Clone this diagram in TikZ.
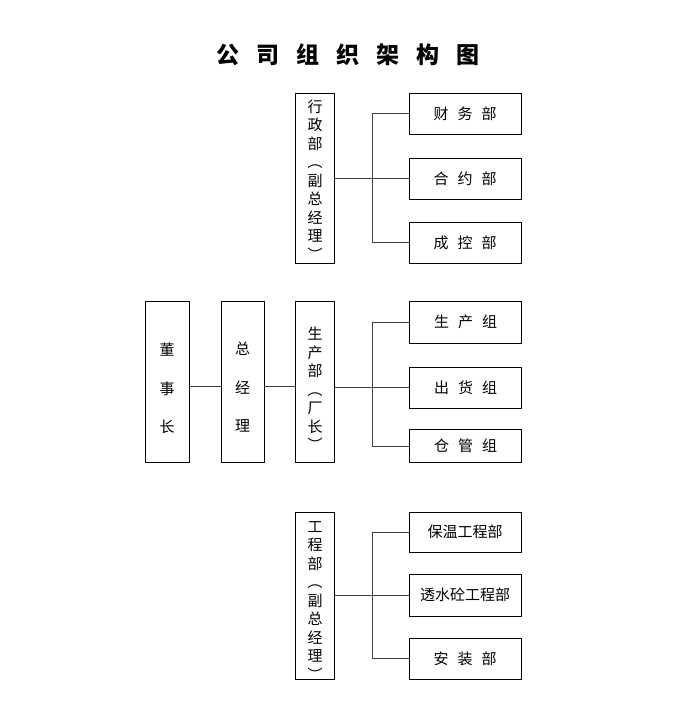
\documentclass[tikz,border=0pt]{standalone}
\usepackage{fontspec}
\newfontfamily\cjk{Noto Sans CJK SC}
\newcommand\vlabel[2]{\raisebox{-#1}[\height][\depth]{\begin{tabular}{@{}c@{}}#2\end{tabular}}}
\begin{document}
\begin{tikzpicture}[x=1pt,y=-1pt,
  box/.style={draw=black,line width=0.95pt,inner sep=0pt,font=\cjk\fontsize{15}{15}\selectfont,align=center},
  vbox/.style={box,minimum width=39pt,font=\cjk\fontsize{15}{18.5}\selectfont},
  bigv/.style={box,minimum width=43pt,minimum height=161pt,font=\cjk\fontsize{15}{38.5}\selectfont},
  hbox/.style={box,minimum width=112pt},
  conn/.style={draw=black!75,line width=0.8pt}]
\useasboundingbox (0,0) rectangle (677,713);
\node[font=\cjk\bfseries\fontsize{23}{23}\selectfont] (title) at (348,55) {公\hspace{17pt}司\hspace{17pt}组\hspace{17pt}织\hspace{17pt}架\hspace{17pt}构\hspace{17pt}图};
% top group
\node[vbox,minimum height=170pt] (xz) at (315,178) {\vlabel{4.5pt}{行\\政\\部\\︵\\副\\总\\经\\理\\︶}};
\node[hbox,minimum height=41pt] (cw) at (465,113.5) {财\hspace{9pt}务\hspace{9pt}部};
\node[hbox,minimum height=41pt] (hy) at (465,178.5) {合\hspace{9pt}约\hspace{9pt}部};
\node[hbox,minimum height=41pt] (ck) at (465,242.5) {成\hspace{9pt}控\hspace{9pt}部};
\coordinate (bus) at (372,0);
\draw[conn] (xz.east |- hy.west) -- (hy.west);
\draw[conn] (cw.west) -- (cw.west -| bus) |- (ck.west);
% middle group
\node[bigv,minimum width=44pt] (dsz) at (167,381.5) {\vlabel{5pt}{董\\事\\长}};
\node[bigv] (zjl) at (242.5,381.5) {\vlabel{4pt}{总\\经\\理}};
\node[vbox,minimum height=161pt] (scb) at (315,381.5) {\vlabel{10pt}{生\\产\\部\\︵\\厂\\长\\︶}};
\node[hbox,minimum height=42pt] (sc) at (465.5,322) {生\hspace{9pt}产\hspace{9pt}组};
\node[hbox,minimum height=41pt] (ch) at (465.5,387.5) {出\hspace{9pt}货\hspace{9pt}组};
\node[hbox,minimum height=33pt] (cg) at (465.5,446) {仓\hspace{9pt}管\hspace{9pt}组};
\draw[conn] (dsz.east |- 0,386) -- (zjl.west |- 0,386);
\draw[conn] (zjl.east |- 0,386) -- (scb.west |- 0,386);
\draw[conn] (scb.east |- ch.west) -- (ch.west);
\draw[conn] (sc.west) -- (sc.west -| bus) |- (cg.west);
% bottom group
\node[vbox,minimum height=167pt] (gc) at (315,595.5) {\vlabel{7pt}{工\\程\\部\\︵\\副\\总\\经\\理\\︶}};
\node[hbox,minimum height=40pt] (bw) at (465,532) {保温工程部};
\node[hbox,minimum height=42pt] (ts) at (465,595) {透水砼工程部};
\node[hbox,minimum height=41pt] (az) at (465,658.5) {安\hspace{9pt}装\hspace{9pt}部};
\draw[conn] (gc.east |- ts.west) -- (ts.west);
\draw[conn] (bw.west) -- (bw.west -| bus) |- (az.west);
\end{tikzpicture}
\end{document}
